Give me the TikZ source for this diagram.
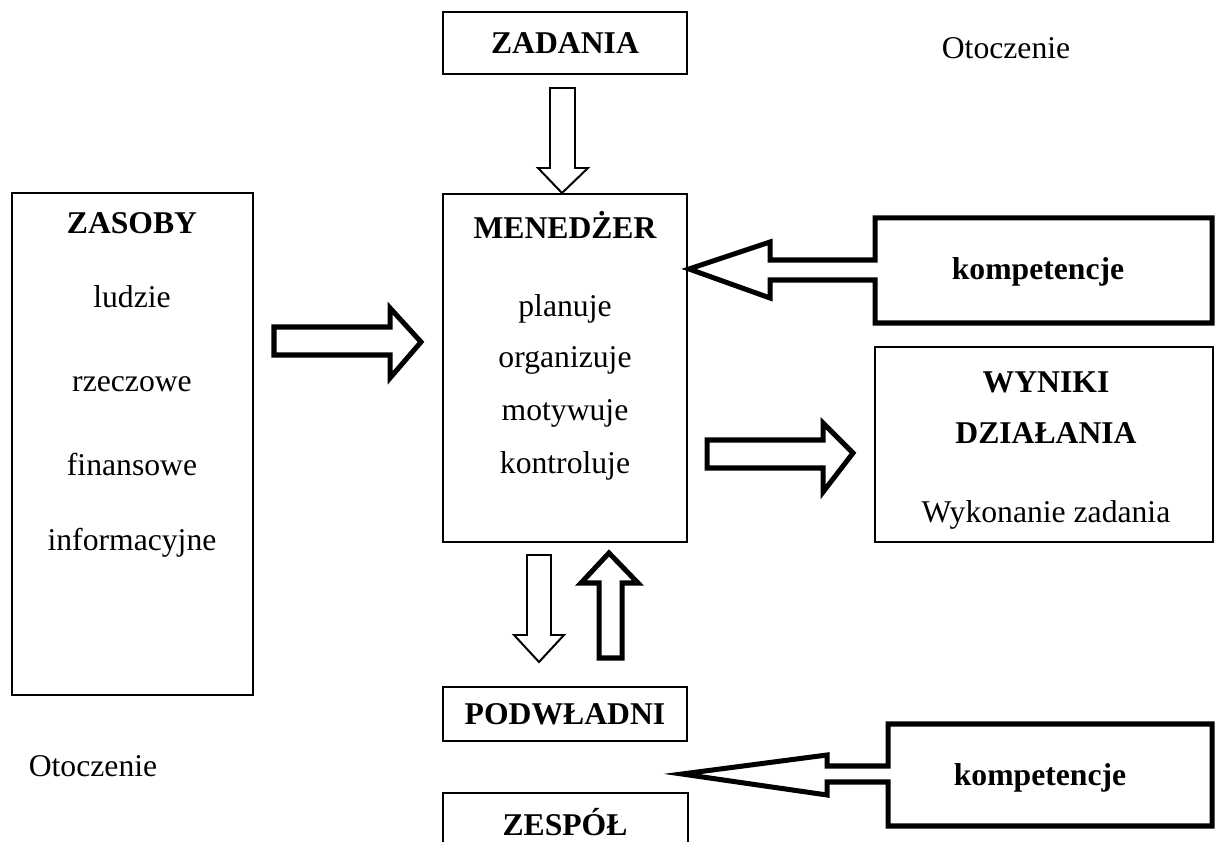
\documentclass[tikz,border=0pt]{standalone}
\usepackage{fontspec}
\setmainfont{Liberation Serif}
\usetikzlibrary{fit}

\begin{document}
\begin{tikzpicture}[
  x=0.379pt, y=-0.379pt,
  box/.style={draw, line width=0.75pt, inner sep=0pt},
  callout/.style={draw, line width=1.9pt, fill=white},
  thinarrow/.style={draw, line width=0.75pt, fill=white},
  thickarrow/.style={draw, line width=1.9pt, fill=white},
  txt/.style={font=\fontsize{12}{14}\selectfont, inner sep=0pt},
  hd/.style={font=\fontsize{12}{14}\selectfont\bfseries, inner sep=0pt},
]
\clip (0,0) rectangle (1215,842);

% ramki
\node[box, fit={(443,12) (687,74)}] (zadania) {};
\node[box, fit={(12,193) (253,695)}] (zasoby) {};
\node[box, fit={(443,194) (687,542)}] (menedzer) {};
\node[box, fit={(875,347) (1213,542)}] (wyniki) {};
\node[box, fit={(443,687) (687,741)}] (podwladni) {};
\node[box, fit={(443,793) (688,880)}] (zespol) {};

% strzalki
\draw[thinarrow] (550,88) -- (575,88) -- (575,168) -- (588,168) -- (562,193) -- (538,168) -- (550,168) -- cycle;
\draw[thickarrow] (274,327) -- (390,327) -- (390,308) -- (421,342) -- (390,378) -- (390,355) -- (274,355) -- cycle;
\draw[thickarrow] (707,440) -- (823,440) -- (823,423) -- (853,453) -- (823,492) -- (823,468) -- (707,468) -- cycle;
\draw[thinarrow] (527,555) -- (551,555) -- (551,635) -- (564,635) -- (539,662) -- (514,635) -- (527,635) -- cycle;
\draw[thickarrow] (599,658) -- (622,658) -- (622,583) -- (638,583) -- (609,553) -- (581,583) -- (599,583) -- cycle;

% kompetencje
\draw[callout] (875,218) -- (1212,218) -- (1212,323) -- (875,323) -- (875,280) -- (770,280) -- (770,298)
  -- (689,269) -- (770,242) -- (770,260) -- (875,260) -- cycle;
\draw[callout] (888,724) -- (1212,724) -- (1212,826) -- (888,826) -- (888,782) -- (827,782) -- (827,795)
  -- (682,774) -- (827,755) -- (827,766) -- (888,766) -- cycle;

% teksty
\node[hd] (t_zadania) at (565,43) {ZADANIA};
\node[txt] (t_otocz1) at (1006,48) {Otoczenie};
\node[hd] (t_zasoby) at (132,223) {ZASOBY};
\node[txt] (t_ludzie) at (132,297) {ludzie};
\node[txt] (t_rzecz) at (132,384) {rzeczowe};
\node[txt] (t_finans) at (132,465) {finansowe};
\node[txt] (t_inform) at (132,543) {informacyjne};
\node[hd] (t_menedzer) at (565,225) {MENEDŻER};
\node[txt] (t_plan) at (565,309) {planuje};
\node[txt] (t_org) at (565,360) {organizuje};
\node[txt] (t_mot) at (565,413) {motywuje};
\node[txt] (t_kontr) at (565,466) {kontroluje};
\node[hd] (t_komp1) at (1038,272) {kompetencje};
\node[hd] (t_wyniki) at (1046,382) {WYNIKI};
\node[hd] (t_dzial) at (1046,433) {DZIAŁANIA};
\node[txt] (t_wykon) at (1046,515) {Wykonanie zadania};
\node[hd] (t_podwl) at (565,714) {PODWŁADNI};
\node[txt] (t_otocz2) at (93,766) {Otoczenie};
\node[hd] (t_komp2) at (1040,778) {kompetencje};
\node[hd] (t_zespol) at (565,822) {ZESPÓŁ};
\end{tikzpicture}
\end{document}
